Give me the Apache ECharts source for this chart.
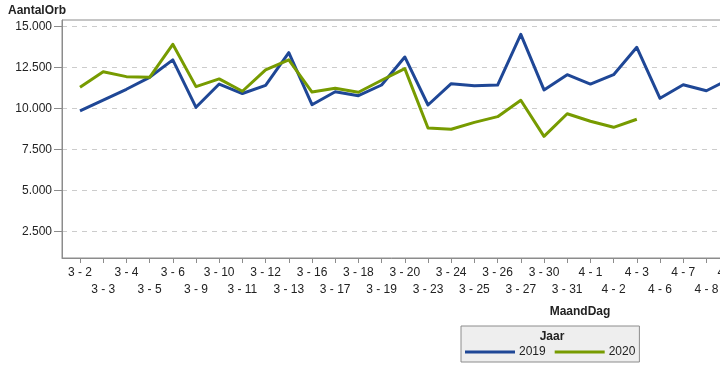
<!DOCTYPE html>
<html>
<head>
<meta charset="utf-8">
<script src="https://cdn.jsdelivr.net/npm/echarts@6/dist/echarts.min.js"></script>
<style>
html,body{margin:0;padding:0;background:#fff;}
#chart{width:720px;height:365px;}
</style>
</head>
<body>
<div id="chart"></div>
<script>
// ---- data ----
var categories = ['3 - 2','3 - 3','3 - 4','3 - 5','3 - 6','3 - 9','3 - 10','3 - 11','3 - 12','3 - 13',
  '3 - 16','3 - 17','3 - 18','3 - 19','3 - 20','3 - 23','3 - 24','3 - 25','3 - 26','3 - 27',
  '3 - 30','3 - 31','4 - 1','4 - 2','4 - 3','4 - 6','4 - 7','4 - 8','4 - 9'];
var aantal2019 = [9840, 10500, 11160, 11890, 12950, 10060, 11480, 10900, 11400, 13390,
  10220, 11010, 10770, 11420, 13130, 10200, 11500, 11370, 11420, 14510,
  11120, 12050, 11480, 12050, 13720, 10610, 11440, 11070, 11780];
var aantal2020 = [11280, 12230, 11930, 11890, 13900, 11320, 11790, 11040, 12340, 12960,
  10990, 11220, 10980, 11710, 12420, 8800, 8720, 9140, 9490, 10490,
  8290, 9670, 9210, 8840, 9330];
var yTicks = [2500, 5000, 7500, 10000, 12500, 15000];
var seriesNames = ['2019', '2020'];

// ---- chart ----
var FONT = '"Liberation Sans", Arial, sans-serif';
var chart = echarts.init(document.getElementById('chart'), null, {renderer: 'canvas'});
var catIdx = categories.map(function (c, i) { return i; });
var evenIdx = catIdx.filter(function (i) { return i % 2 === 0; });
var oddIdx = catIdx.filter(function (i) { return i % 2 === 1; });
function pairs(arr) { return arr.map(function (v, i) { return [i, v]; }); }
function fmtNL(v) { return String(v).replace(/\B(?=(\d{3})+(?!\d))/g, '.'); }
function catLabel(v) { return categories[Math.round(v)] || ''; }

var gridLeft = 62, gridWidth = 718, firstX = 80, step = 23.2;
var xMin = (gridLeft - firstX) / step;
var xMax = xMin + gridWidth / step;

chart.setOption({
  animation: false,
  textStyle: {fontFamily: FONT},
  grid: {left: gridLeft, top: 20, width: gridWidth, height: 238, show: true,
         outerBoundsMode: 'none', containLabel: false,
         borderColor: '#8c8c8c', borderWidth: 1, backgroundColor: 'transparent'},
  xAxis: [{
    type: 'value', min: xMin, max: xMax, position: 'bottom',
    axisLine: {show: true, onZero: false, lineStyle: {color: '#8c8c8c', width: 1}},
    axisTick: {show: true, length: 5, customValues: catIdx, lineStyle: {color: '#8c8c8c'}},
    splitLine: {show: false},
    axisLabel: {
      customValues: evenIdx, margin: 9, fontSize: 12, color: '#222',
      fontFamily: FONT, hideOverlap: false, formatter: catLabel
    }
  }, {
    type: 'value', min: xMin, max: xMax, position: 'bottom', offset: 0,
    axisLine: {show: false, onZero: false},
    axisTick: {show: false},
    splitLine: {show: false},
    axisLabel: {
      customValues: oddIdx, margin: 26, fontSize: 12, color: '#222',
      fontFamily: FONT, hideOverlap: false, formatter: catLabel
    }
  }],
  yAxis: {
    type: 'value', min: 872, max: 15384,
    axisLine: {show: true, onZero: false, lineStyle: {color: '#8c8c8c', width: 1}},
    axisTick: {show: true, length: 8, customValues: yTicks, lineStyle: {color: '#8c8c8c'}},
    axisLabel: {customValues: yTicks, margin: 10, fontSize: 12, color: '#222', fontFamily: FONT,
                formatter: function (v) { return fmtNL(v); }},
    splitLine: {show: true, lineStyle: {color: '#cccccc', type: [5, 5], width: 1}}
  },
  legend: {
    left: 461, top: 326, orient: 'horizontal',
    padding: [20, 4, 4, 4], itemGap: 9, itemWidth: 50, itemHeight: 3,
    backgroundColor: '#eeeeee', borderColor: '#8c8c8c', borderWidth: 1,
    icon: 'rect',
    textStyle: {fontSize: 12, color: '#222', fontFamily: FONT, padding: [0, 0, 0, -1]},
    data: seriesNames
  },
  graphic: [
    {type: 'text', x: 8, y: 5, z: 100, style: {text: 'AantalOrb', font: 'bold 12px ' + FONT, fill: '#222'}},
    {type: 'text', x: 580, y: 312, z: 100, style: {text: 'MaandDag', font: 'bold 12px ' + FONT, fill: '#222',
      textAlign: 'center', textVerticalAlign: 'middle'}},
    {type: 'text', x: 552, y: 337, z: 100, style: {text: 'Jaar', font: 'bold 12px ' + FONT, fill: '#222',
      textAlign: 'center', textVerticalAlign: 'middle'}}
  ],
  series: [
    {name: seriesNames[0], type: 'line', xAxisIndex: 0, data: pairs(aantal2019), symbol: 'none',
     color: '#1f4796', lineStyle: {width: 3, color: '#1f4796', join: 'round'}},
    {name: seriesNames[1], type: 'line', xAxisIndex: 0, data: pairs(aantal2020), symbol: 'none',
     color: '#779b00', lineStyle: {width: 3, color: '#779b00', join: 'round'}}
  ]
});
</script>
</body>
</html>
